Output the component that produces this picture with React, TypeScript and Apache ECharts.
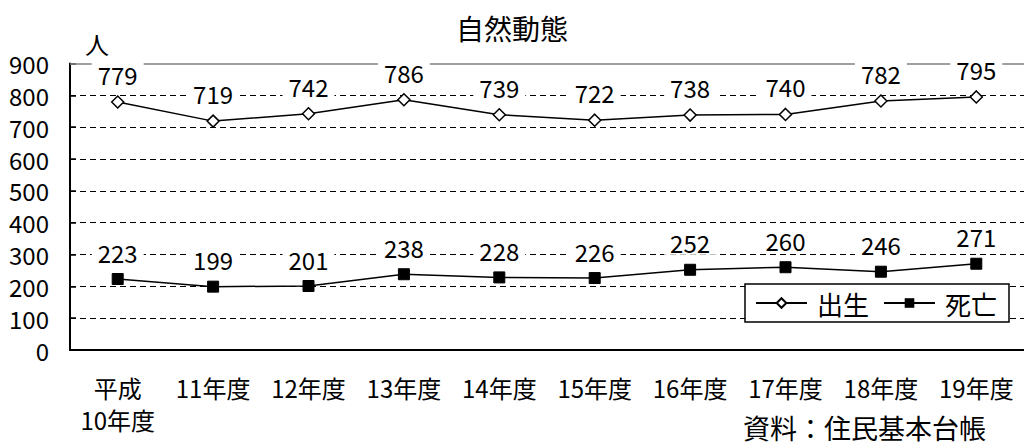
import React, { useEffect, useRef } from "react";
import * as echarts from "echarts";

const categories = ["平成\n10年度", "11年度", "12年度", "13年度", "14年度", "15年度", "16年度", "17年度", "18年度", "19年度"];
const births = [779, 719, 742, 786, 739, 722, 738, 740, 782, 795];
const deaths = [223, 199, 201, 238, 228, 226, 252, 260, 246, 271];
const title = "自然動態";
const unitLabel = "人";
const sourceText = "資料：住民基本台帳";

const FONT = "'Noto Sans CJK JP', 'Noto Sans', sans-serif";

export default function App() {
  const ref = useRef<HTMLDivElement>(null);
  useEffect(() => {
    if (!ref.current) return;
    const chart = echarts.init(ref.current, undefined, { renderer: "svg" });
    const labelCfg = {
      show: true,
      position: "top",
      distance: 9,
      fontSize: 24,
      fontFamily: FONT,
      color: "#000",
      backgroundColor: "#fff",
      padding: [0, 6, 0, 6],
    };
    chart.setOption({
      animation: false,
      backgroundColor: "#fff",
      textStyle: { fontFamily: FONT },
      title: {
        text: title,
        left: "center",
        top: 9,
        textStyle: { fontSize: 28, fontWeight: "normal", color: "#000", fontFamily: FONT },
      },
      grid: { left: 70, top: 63.5, width: 960, height: 286.5, containLabel: false },
      legend: {
        left: 745,
        top: 284,
        padding: [6, 12, 6, 10],
        itemWidth: 51,
        itemHeight: 12,
        itemGap: 14,
        backgroundColor: "#fff",
        borderColor: "#000",
        borderWidth: 1.5,
        borderRadius: 0,
        textStyle: { fontSize: 26, color: "#000", fontFamily: FONT, padding: [0, 0, 0, 5] },
        data: ["出生", "死亡"],
      },
      xAxis: {
        type: "category",
        data: categories,
        boundaryGap: true,
        axisLine: { lineStyle: { color: "#000", width: 2 } },
        axisTick: { inside: true, length: 7, lineStyle: { color: "#000", width: 1.5 } },
        axisLabel: { fontSize: 24, color: "#000", margin: 21, lineHeight: 32, fontFamily: FONT, interval: 0 },
      },
      yAxis: {
        type: "value",
        min: 0,
        max: 900,
        interval: 100,
        axisLine: { show: true, lineStyle: { color: "#000", width: 2 } },
        axisTick: { show: true, inside: true, length: 6, lineStyle: { color: "#000", width: 1.5 } },
        axisLabel: { fontSize: 24, color: "#000", margin: 21, fontFamily: FONT },
        splitLine: {
          show: true,
          showMinLine: false,
          showMaxLine: false,
          lineStyle: { color: "#000", width: 1, type: [6, 4] },
        },
      },
      graphic: [
        {
          type: "text",
          left: 85,
          top: 31,
          style: { text: unitLabel, fill: "#000", font: `24px ${FONT}` },
        },
        {
          type: "text",
          left: 743,
          top: 414,
          style: { text: sourceText, fill: "#000", font: `27px ${FONT}` },
        },
      ],
      series: [
        {
          name: "出生",
          type: "line",
          data: births,
          symbol: "diamond",
          symbolSize: 12,
          itemStyle: { color: "#fff", borderColor: "#000", borderWidth: 1.5 },
          lineStyle: { color: "#000", width: 1.5 },
          label: labelCfg,
          z: 3,
          markLine: {
            silent: true,
            symbol: "none",
            label: { show: false },
            lineStyle: { color: "#808080", type: "solid", width: 1.5 },
            data: [{ yAxis: 900 }],
            z: 1,
          },
        },
        {
          name: "死亡",
          type: "line",
          data: deaths,
          symbol: "rect",
          symbolSize: 11,
          itemStyle: { color: "#000", borderColor: "#000" },
          lineStyle: { color: "#000", width: 1.5 },
          label: labelCfg,
          z: 3,
        },
      ],
    });
    return () => chart.dispose();
  }, []);
  return <div ref={ref} style={{ position: "absolute", left: 0, top: 0, width: 1024, height: 446 }} />;
}
